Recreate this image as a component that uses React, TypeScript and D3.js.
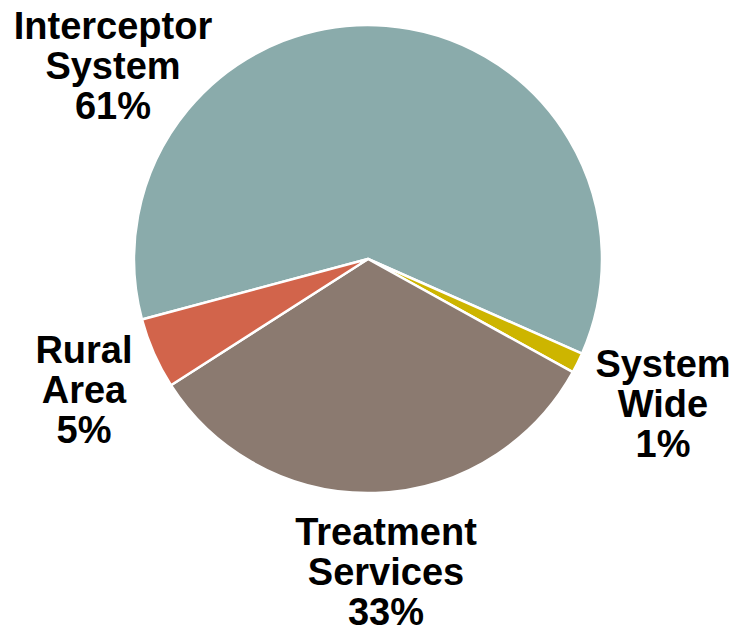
import React from "react";
import * as d3 from "d3";

const categories = ["Interceptor System", "System Wide", "Treatment Services", "Rural Area"];
const values = [60.8, 1.4, 32.9, 4.9];
const labelLines = [["Interceptor", "System", "61%"], ["System", "Wide", "1%"], ["Treatment", "Services", "33%"], ["Rural", "Area", "5%"]];
const colors = ["#8aabab", "#cdb500", "#8b7a70", "#d2644b"];
const labelPos = [[113, 39], [663, 377], [386, 545], [84, 363]];

export default function App() {
  const W = 736, H = 633;
  const cx = 368, cy = 259, r = 234;
  const pie = d3.pie<number>().sort(null).startAngle((-105 * Math.PI) / 180).endAngle((255 * Math.PI) / 180);
  const arcs = pie(values);
  const arc = d3.arc<d3.PieArcDatum<number>>().innerRadius(0).outerRadius(r);
  return (
    <svg width={W} height={H} style={{ position: "absolute", left: 0, top: 0 }}>
      <rect width={W} height={H} fill="#fff" />
      <g transform={`translate(${cx},${cy})`}>
        {arcs.map((a, i) => (
          <path key={categories[i]} d={arc(a) || ""} fill={colors[i]} stroke="#fff" strokeWidth={2.5} strokeLinejoin="round" />
        ))}
      </g>
      {labelLines.map((lines, i) => (
        <text key={i} x={labelPos[i][0]} y={labelPos[i][1]} textAnchor="middle" fontFamily="Liberation Sans, Arial, sans-serif" fontWeight="bold" fontSize={38} fill="#000">
          {lines.map((l, j) => (
            <tspan key={j} x={labelPos[i][0]} dy={j === 0 ? 0 : 40}>{l}</tspan>
          ))}
        </text>
      ))}
    </svg>
  );
}
